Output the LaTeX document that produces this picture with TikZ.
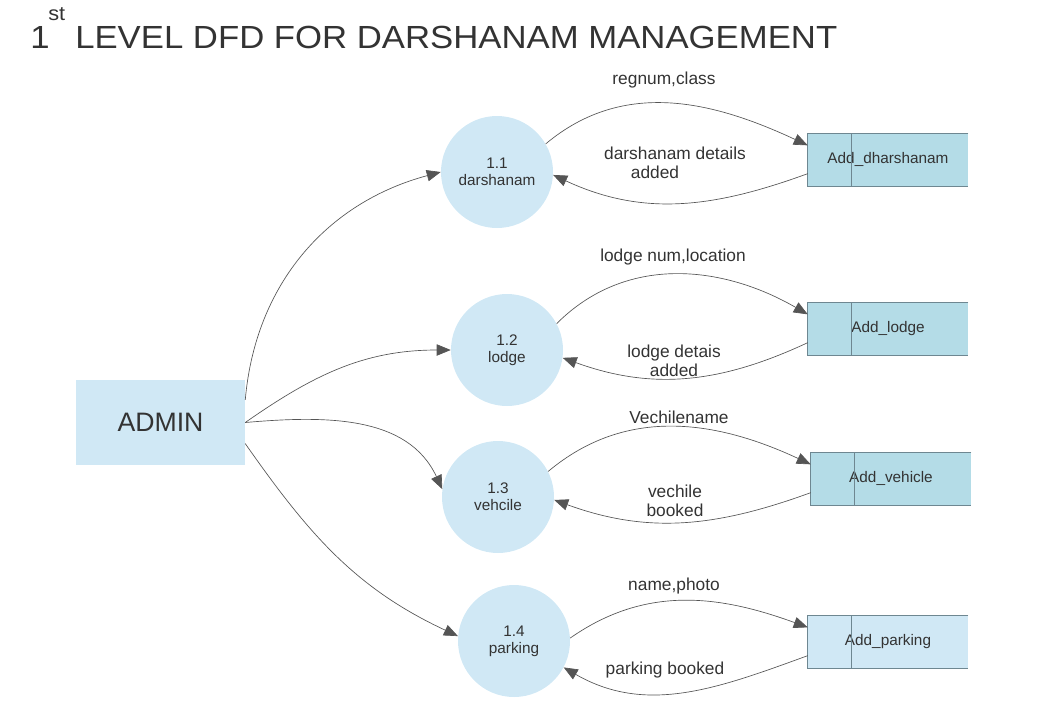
\documentclass[tikz,border=0pt]{standalone}
\usepackage{ifthen}
\usepackage{fontspec}
\setmainfont{Liberation Sans}
\newfontfamily\titlefont[FakeStretch=1.085]{Liberation Sans}
\usetikzlibrary{arrows.meta}

\definecolor{bubble}{RGB}{208,232,245}
\definecolor{storefill}{RGB}{180,220,231}
\definecolor{storeedge}{RGB}{110,135,145}
\definecolor{flowgrey}{RGB}{85,85,85}
\definecolor{inkgrey}{RGB}{51,51,51}

\begin{document}
\begin{tikzpicture}[x=0.75pt,y=-0.75pt,
  heading/.style={anchor=base west,inner sep=0pt,text=inkgrey},
  proc/.style={circle,fill=bubble,minimum size=84pt,inner sep=0pt,align=center,
    font=\fontsize{11.5}{12.75}\selectfont,text=inkgrey},
  store/.style={rectangle,minimum width=120pt,minimum height=39pt,inner sep=0pt,
    font=\fontsize{11.5}{13}\selectfont,text=inkgrey},
  flow/.style={draw=flowgrey,line width=0.5pt,-{Triangle[length=10.5pt,width=8.5pt]}},
  lbl/.style={font=\fontsize{13}{14.25}\selectfont,text=inkgrey,align=center,inner sep=0pt}]

  \useasboundingbox (0,0) rectangle (1063,711);

  % title
  \node[heading,font=\titlefont\fontsize{24}{28}\selectfont] (one) at (30,48) {1};
  \node[heading,font=\titlefont\fontsize{15}{18}\selectfont] (sup) at (48,20) {st};
  \node[heading,font=\titlefont\fontsize{24}{28}\selectfont] (title) at (75,48)
    {LEVEL DFD FOR DARSHANAM MANAGEMENT};

  % external entity
  \node[fill=bubble,minimum width=126.75pt,minimum height=63.75pt,
    font=\fontsize{20}{24}\selectfont,text=inkgrey] (admin) at (160.5,422.5) {ADMIN};

  % processes
  \foreach \n/\x/\y/\name in {1/497/172/darshanam,2/507/350/lodge,3/498/497/vehcile,4/514/641/parking}
  {
    \node[proc] (p\n) at (\x,\y) {1.\n\\\name};
  }

  % data stores
  \foreach \n/\x/\y/\name in {1/888/159.5/dharshanam,2/888/328.5/lodge,3/891/478.5/vehicle,4/888/641.5/parking}
  {
    \ifthenelse{\n = 4}{
      \node[store,fill=bubble] (s\n) at (\x,\y) {Add\_\name};
    }%else
    {
      \node[store,fill=storefill] (s\n) at (\x,\y) {Add\_\name};
    }
    \draw[storeedge] (s\n.north east) -- (s\n.north west) -- (s\n.south west) -- (s\n.south east);
    \draw[storeedge] ([xshift=33pt]s\n.north west) -- ([xshift=33pt]s\n.south west);
  }

  % admin to processes
  \draw[flow] (admin.15) to[out=85,in=195] (p1.180);
  \draw[flow] (admin.east) to[out=35,in=180] (p2.180);
  \draw[flow] (admin.east) to[out=5,in=115] (p3.172);
  \draw[flow] (admin.-14) to[out=-55,in=155] (p4.175);

  % processes and stores
  \draw[flow] (p1.30) to[out=40,in=155] (s1.170);
  \draw[flow] (s1.190) to[out=200,in=-25] (p1.-3);
  \draw[flow] (p2.28) to[out=45,in=150] (s2.170);
  \draw[flow] (s2.190) to[out=205,in=-20] (p2.-8);
  \draw[flow] (p3.27) to[out=40,in=155] (s3.170);
  \draw[flow] (s3.190) to[out=200,in=-20] (p3.-3);
  \draw[flow] (p4.3) to[out=35,in=160] (s4.170);
  \draw[flow] (s4.190) to[out=200,in=-30] (p4.-28);

  % flow labels
  \node[lbl] (f1a) at (664,80) {regnum,class};
  \node[lbl] (f1b) at (675,163) {darshanam details\\added\hspace*{30pt}};
  \node[lbl] (f2a) at (673,257) {lodge num,location};
  \node[lbl] (f2b) at (674,361) {lodge detais\\added};
  \node[lbl] (f3a) at (679,417) {Vechilename};
  \node[lbl] (f3b) at (675,501) {vechile\\booked};
  \node[lbl] (f4a) at (674,586) {name,photo};
  \node[lbl] (f4b) at (665,670) {parking booked};
\end{tikzpicture}
\end{document}
